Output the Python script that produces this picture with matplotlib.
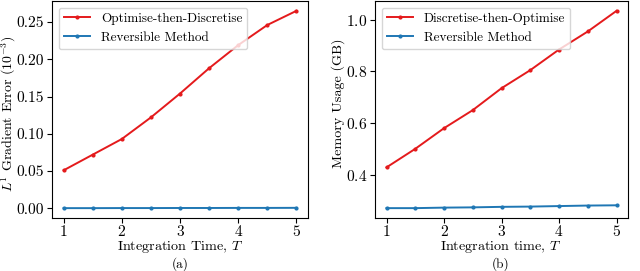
import numpy as np
import matplotlib
matplotlib.use("Agg")
import matplotlib.pyplot as plt

plt.rcParams['font.family'] = 'serif'
plt.rcParams['font.serif'] = ['cmr10', 'DejaVu Serif']
plt.rcParams['mathtext.fontset'] = 'cm'
plt.rcParams['axes.formatter.use_mathtext'] = True
plt.rcParams['font.size'] = 11

T = [1, 1.5, 2, 2.5, 3, 3.5, 4, 4.5, 5]
err_otd = [0.051, 0.072, 0.093, 0.122, 0.154, 0.188, 0.219, 0.246, 0.265]
err_rev = [0.0002, 0.0002, 0.0003, 0.0003, 0.0004, 0.0004, 0.0005, 0.0005, 0.0006]
mem_dto = [0.428, 0.500, 0.580, 0.650, 0.735, 0.805, 0.885, 0.955, 1.035]
mem_rev = [0.270, 0.270, 0.272, 0.273, 0.275, 0.276, 0.278, 0.280, 0.281]

red = '#e41a1c'
blue = '#1f77b4'

fig = plt.figure(figsize=(6.4, 2.71), dpi=100)
ax1 = fig.add_axes([52/640, 1 - 218/271, 256/640, 217/271])
ax2 = fig.add_axes([375/640, 1 - 218/271, 253/640, 217/271])

ax1.plot(T, err_otd, '.-', color=red, ms=4, lw=1.4, label='Optimise-then-Discretise')
ax1.plot(T, err_rev, '.-', color=blue, ms=4, lw=1.4, label='Reversible Method')
ax1.set_ylabel('$L^1$ Gradient Error $(10^{-3})$', fontsize=10)
ax1.yaxis.set_label_coords(-0.134, 0.48)
ax1.set_yticks([0.0, 0.05, 0.10, 0.15, 0.20, 0.25])
ax1.set_yticklabels(['0.00', '0.05', '0.10', '0.15', '0.20', '0.25'])
ax1.legend(loc='upper left', fontsize=9.5)

ax2.plot(T, mem_dto, '.-', color=red, ms=4, lw=1.4, label='Discretise-then-Optimise')
ax2.plot(T, mem_rev, '.-', color=blue, ms=4, lw=1.4, label='Reversible Method')
ax2.set_ylabel('Memory Usage (GB)', fontsize=10.2)
ax2.yaxis.set_label_coords(-0.118, 0.53)
ax2.set_yticks([0.4, 0.6, 0.8, 1.0])
ax2.legend(loc='upper left', fontsize=9.5)

for ax in (ax1, ax2):
    ax.set_xticks([1, 2, 3, 4, 5])
    ax.tick_params(labelsize=11.2, pad=2)
    ax.tick_params(axis='x', pad=1)

fig.text((52 + 128) / 640, 1 - 247/271, 'Integration Time, $T$', ha='center', va='center', fontsize=10.2)
fig.text((375 + 126) / 640, 1 - 247/271, 'Integration time, $T$', ha='center', va='center', fontsize=10.2)
fig.text((52 + 128) / 640, 1 - 264/271, '(a)', ha='center', va='center', fontsize=9.5)
fig.text((375 + 126) / 640, 1 - 264/271, '(b)', ha='center', va='center', fontsize=9.5)

fig.savefig('out.png', dpi=100)
